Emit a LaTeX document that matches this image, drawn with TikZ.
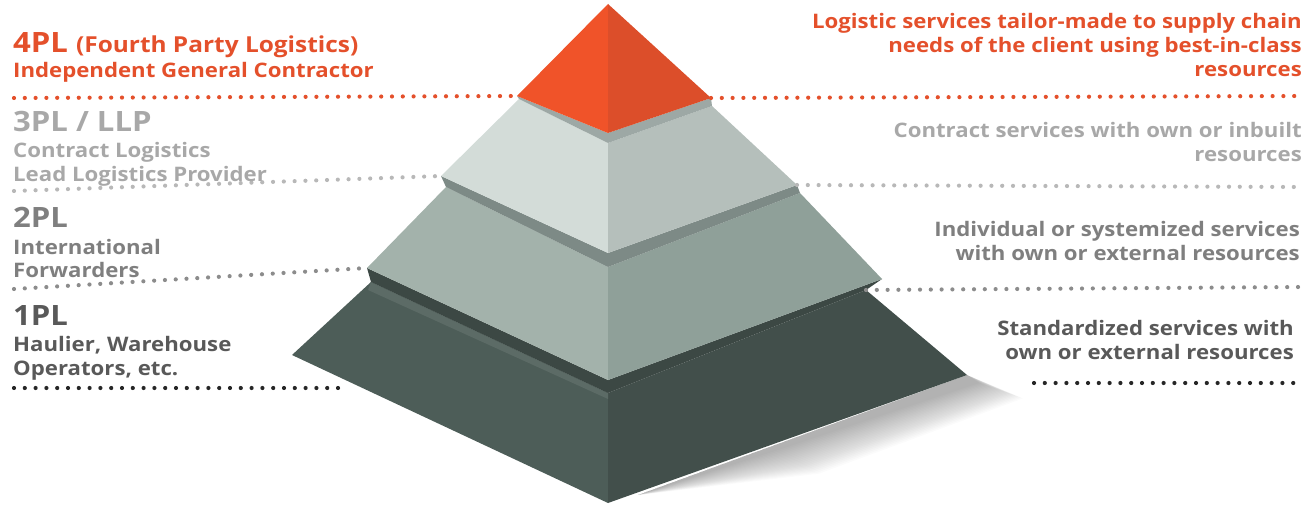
\documentclass[tikz,border=0pt]{standalone}
\usepackage{fontspec}
\setmainfont{Open Sans}[FakeStretch=1.11]
\usetikzlibrary{calc}

\definecolor{plorange}{HTML}{E4502B}
\definecolor{pllight}{HTML}{A8A8A8}
\definecolor{plmid}{HTML}{7F7F7F}
\definecolor{pldark}{HTML}{595959}
\definecolor{dotlight}{HTML}{B8B8B8}
\definecolor{dotmid}{HTML}{8C8C8C}
% pyramid faces
\definecolor{topleft}{HTML}{F05329}
\definecolor{topright}{HTML}{DC4E2A}
\definecolor{threeleft}{HTML}{D3DCD8}
\definecolor{threeright}{HTML}{B5BFBB}
\definecolor{threeband}{HTML}{9DA8A5}
\definecolor{twoleft}{HTML}{A3B2AB}
\definecolor{tworight}{HTML}{8FA099}
\definecolor{twoband}{HTML}{7D8A86}
\definecolor{oneleft}{HTML}{4D5D58}
\definecolor{oneright}{HTML}{424F4B}
\definecolor{oneband}{HTML}{3C4844}
\definecolor{onebevel}{HTML}{5C6B66}

\tikzset{
    dotrule/.style={line width=4.2pt, line cap=round, dash pattern=on 0pt off 10.8pt},
    lefttext/.style={anchor=base west, inner sep=0pt, font=\bfseries\fontsize{20}{24}\selectfont, align=left},
    righttext/.style={anchor=base east, inner sep=0pt, font=\bfseries\fontsize{20}{24}\selectfont, align=right},
    bigtext/.style={anchor=base west, inner sep=0pt, font=\bfseries\fontsize{28}{30}\selectfont}
}

\begin{document}
\begin{tikzpicture}[x=1pt,y=-1pt]
\useasboundingbox (0,0) rectangle (1307,505);

% top tier (4PL)
\coordinate (a) at (608, 4);
\coordinate (b) at (517, 96);
\coordinate (c) at (608, 133);
\coordinate (d) at (711, 98);
% second tier (3PL)
\coordinate (e) at (519, 99);
\coordinate (f) at (608, 143);
\coordinate (g) at (712, 106);
\coordinate (h) at (441, 176);
\coordinate (i) at (608, 253);
\coordinate (j) at (797, 185);
% third tier (2PL)
\coordinate (k) at (446, 187);
\coordinate (l) at (608, 267);
\coordinate (m) at (800, 193);
\coordinate (n) at (367, 268);
\coordinate (o) at (608, 380);
\coordinate (p) at (882, 279);
% bottom tier (1PL)
\coordinate (q) at (371, 282);
\coordinate (r) at (608, 393);
\coordinate (s) at (866, 290);
\coordinate (t) at (292, 355);
\coordinate (u) at (608, 503);
\coordinate (v) at (967, 375);

\newcommand{\tierfaces}[8]{
    \fill[#7] (#1)--(#2)--(#5)--(#4)--cycle;
    \fill[#8] (#2)--(#3)--(#6)--(#5)--cycle;
}

% soft shadow
\foreach \w in {0,2,...,44} {
    \fill[black, opacity=0.014] (v)--($(v)+(\w+12,\w*0.35+8)$)--($(u)!0.45!(v)+(\w*0.9+10,\w*0.55+4)$)--($(u)+(30,-8)$)--cycle;
}

\tierfaces{q}{r}{s}{t}{u}{v}{oneleft}{oneright}
\fill[onebevel] (q)--(r)--($(r)+(0,6)$)--($(q)+(-3,8)$)--cycle;
\fill[oneband] (q)--(r)--(s)--(p)--(o)--(n)--cycle;

\tierfaces{k}{l}{m}{n}{o}{p}{twoleft}{tworight}
\fill[twoband] (k)--(l)--(m)--(j)--(i)--(h)--cycle;

\tierfaces{e}{f}{g}{h}{i}{j}{threeleft}{threeright}
\fill[threeband] (e)--(f)--(g)--(d)--(c)--(b)--cycle;

\fill[topleft] (a)--(b)--(c)--cycle;
\fill[topright] (a)--(c)--(d)--cycle;

% dotted rules
\coordinate (ol) at (14, 98);
\coordinate (or) at (1300, 96);
\coordinate (gl) at (14, 191);
\coordinate (gr) at (1300, 187);
\coordinate (ml) at (14, 289);
\coordinate (mr) at (1300, 287);
\coordinate (kl) at (14, 388);
\coordinate (ke) at (347, 388);
\coordinate (kr) at (1300, 383);
\coordinate (ks) at (1034, 383);
\draw[dotrule, plorange] (ol)--(b);
\draw[dotrule, plorange] (d)--(or);
\draw[dotrule, dotlight] (gl)--(h);
\draw[dotrule, dotlight] (j)--(gr);
\draw[dotrule, dotmid] (ml)--(n);
\draw[dotrule, dotmid] (s)--(mr);
\draw[dotrule, black!85] (kl)--(ke);
\draw[dotrule, black!85] (ks)--(kr);

% left labels
\node[bigtext, text=plorange] (fourpl) at (13, 53) {4PL \fontsize{22}{24}\selectfont(Fourth Party Logistics)};
\node[lefttext, text=plorange] (fourdesc) at (13, 78) {Independent General Contractor};
\node[bigtext, text=pllight] (threepl) at (13, 132) {3PL / LLP};
\node[lefttext, text=pllight] (threedesc) at (13, 182) {Contract Logistics\\Lead Logistics Provider};
\node[bigtext, text=plmid] (twopl) at (13, 228) {2PL};
\node[lefttext, text=plmid] (twodesc) at (13, 278) {International\\Forwarders};
\node[bigtext, text=pldark] (onepl) at (13, 325) {1PL};
\node[lefttext, text=pldark] (onedesc) at (13, 375) {Haulier, Warehouse\\Operators, etc.};

% right labels
\node[righttext, text=plorange] (fourserv) at (1302, 77) {Logistic services tailor-made to supply chain\\needs of the client using best-in-class\\resources};
\node[righttext, text=pllight] (threeserv) at (1302, 162) {Contract services with own or inbuilt\\resources};
\node[righttext, text=plmid] (twoserv) at (1300, 261) {Individual or systemized services\\with own or external resources};
\node[righttext, text=pldark] (oneserv) at (1294, 359) {Standardized services with\\own or external resources};
\end{tikzpicture}
\end{document}
